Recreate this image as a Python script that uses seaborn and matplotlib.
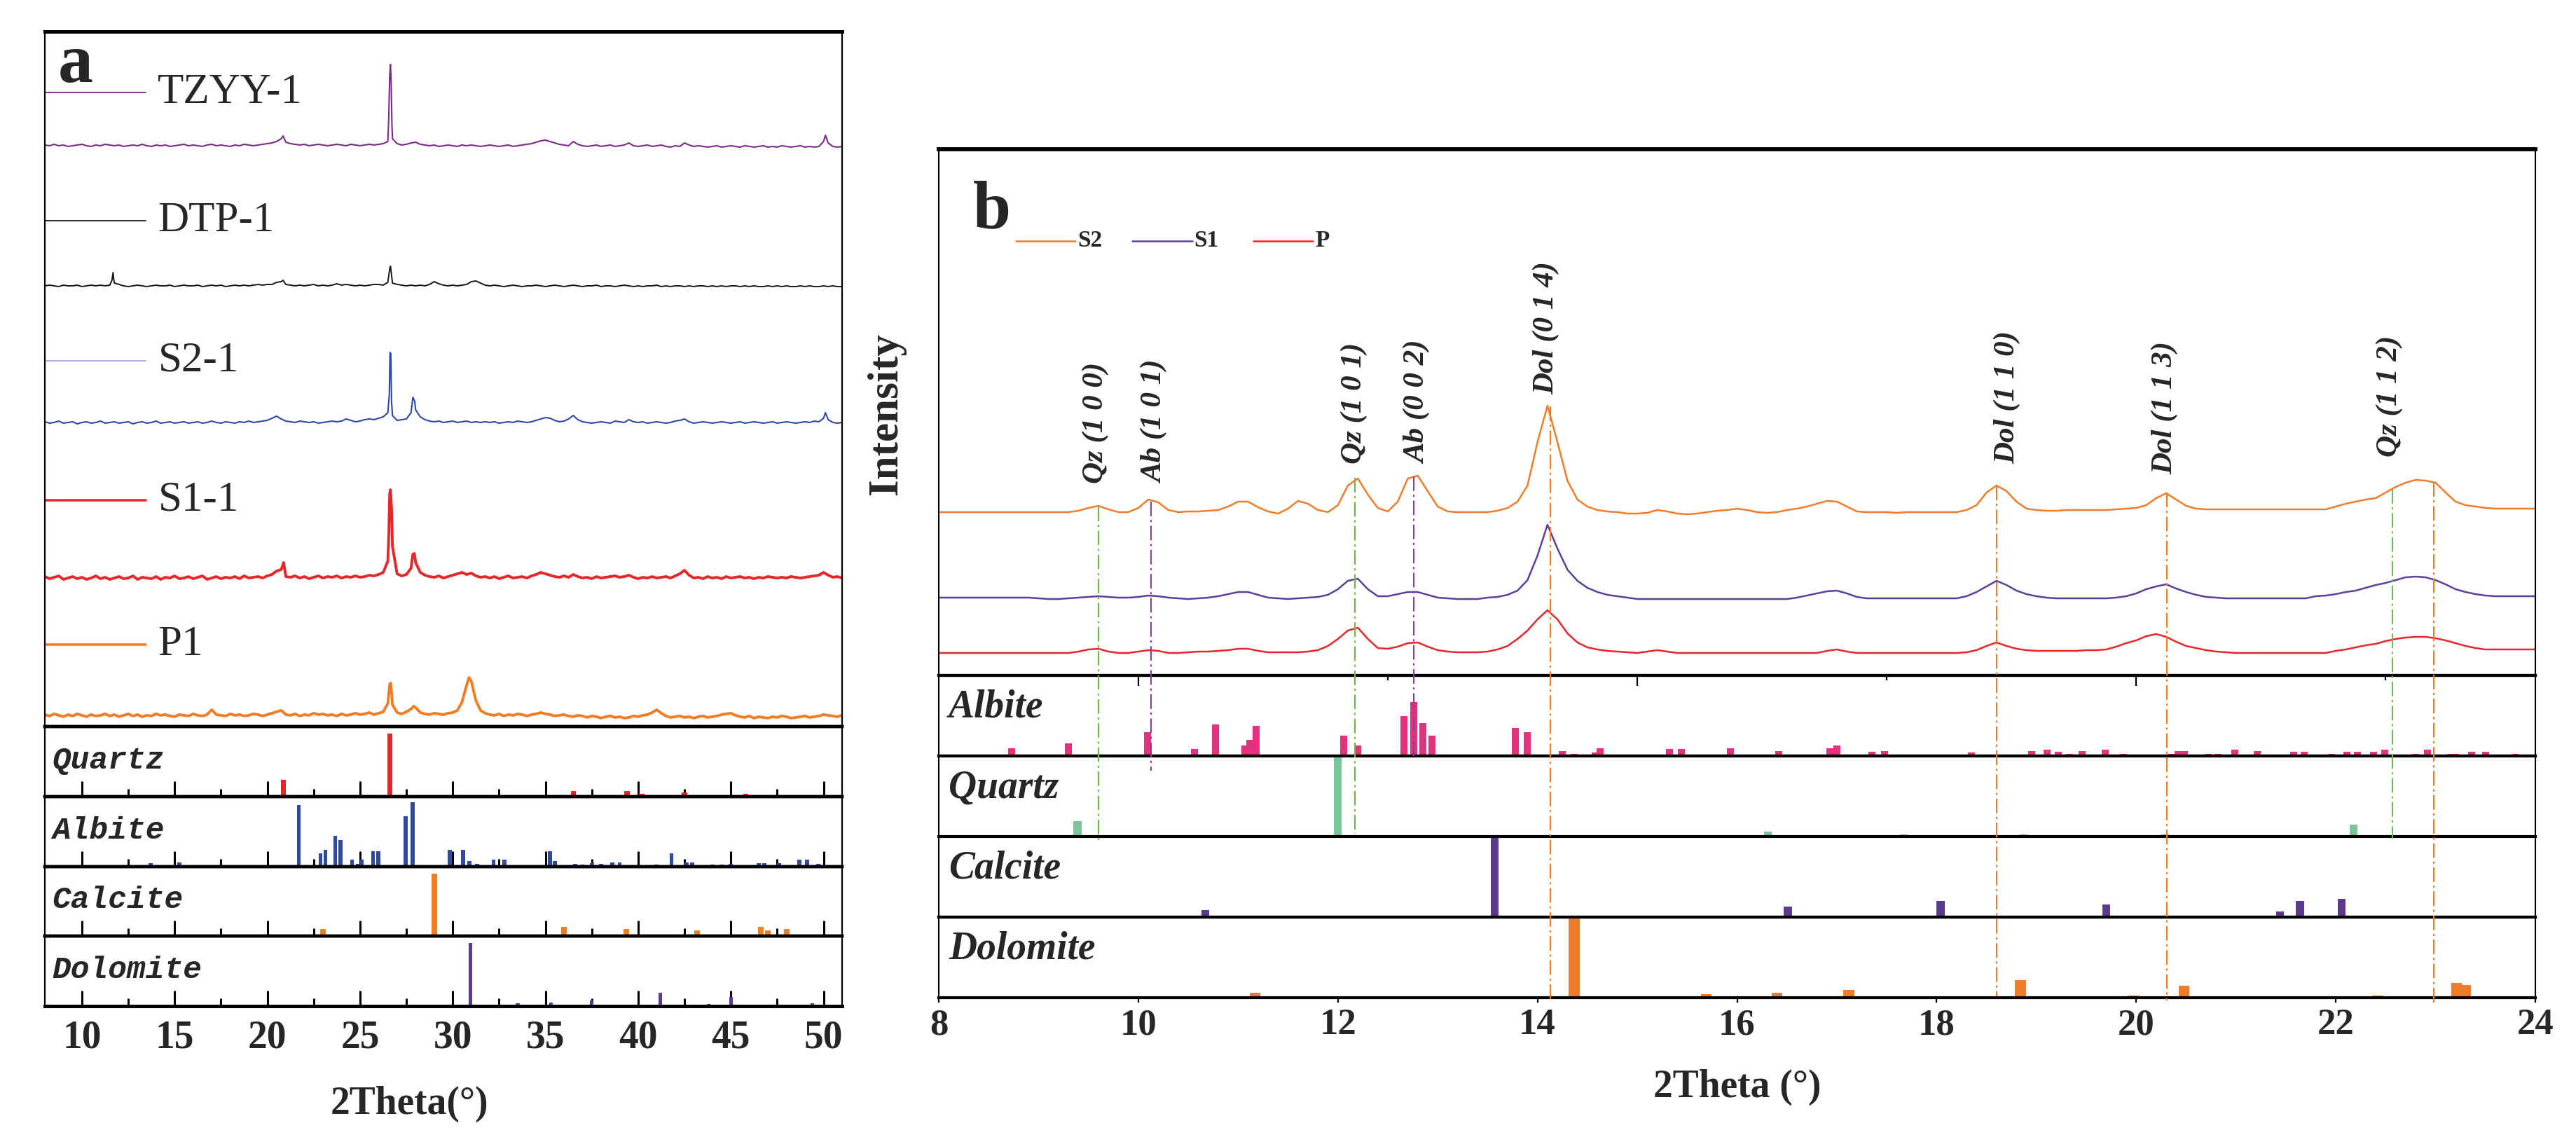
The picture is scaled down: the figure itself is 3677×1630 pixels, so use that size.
import numpy as np
import pandas as pd
import matplotlib
matplotlib.use("Agg")
import matplotlib.pyplot as plt
from matplotlib.lines import Line2D
import seaborn as sns

# ---------------------------------
# Panel a : XRD patterns (step 0.25 deg, 8 - 51 deg), px above each baseline
# ---------------------------------

tzyy_base = [
    1, 0, 2, 0, 1, -1, 0, 1, 2, 0, -1, 1, 0, 2, 1, 0,
    1, -1, 0, 1, 0, 2, 0, -1, 1, 0, 1, -1, 0, 1, 2, 0,
    1, 0, -1, 1, 2, 0, 1, 0, -1, 1, 0, 2, 1, 0, 1, 2,
    3, 4, 6, 10, 5, 3, 2, 1, 2, 0, 1, 2, 1, 0, 1, 2,
    1, 0, 2, 1, 0, 1, 2, 1, 2, 3, 6, 10, 3, 1, 2, 4,
    5, 2, 1, 0, 1, -1, 0, 1, 0, -1, 1, 0, 1, 0, -1, 0,
    1, 0, -1, 0, 1, -1, 0, 1, 2, 3, 5, 7, 8, 6, 4, 2,
    1, 0, 6, 2, 0, -1, 0, 1, -1, 0, 1, -1, 0, 1, 4, 0,
    -1, 0, 1, -1, 0, 1, -1, -2, 0, -1, 4, 1, -1, 0, -1, -2,
    -1, 0, -2, -1, 0, -1, -2, 0, -1, -2, -1, 0, -2, -1, -2, 0,
    -1, -2, -1, 0, -2, -1, -2, -1, 6, 4, -1, -2, -1]
tzyy_peak_x = [20.85, 26.55, 26.60, 26.64, 26.68, 26.72, 50.10]
tzyy_peak_y = [14, 40, 100, 116, 90, 30, 15]

dtp_base = [
    0, 1, 0, -1, 1, 0, 0, 1, -1, 0, 1, 0, 1, 0, 1, 4,
    2, 0, -1, 0, 1, 0, -1, 0, 1, 0, 0, 1, -1, 0, 1, 0,
    0, 1, -1, 0, 1, 0, 1, -1, 0, 1, 0, 1, 0, 1, 2, 1,
    2, 2, 5, 6, 2, 1, 0, 1, 0, 1, 2, 0, 1, 0, 1, 3,
    1, 2, 1, 0, 1, 0, 1, 2, 2, 1, 5, 4, 2, 1, 0, 1,
    0, 1, 0, 2, 6, 3, 1, 0, 1, 0, 1, 2, 6, 7, 4, 1,
    0, 1, 0, -1, 0, 1, 0, -1, 0, 0, 1, 0, -1, 0, 1, 0,
    -1, 0, 1, 0, -1, 0, 0, 1, -1, 0, 0, -1, 0, 1, 0, -1,
    0, -1, 0, 0, 1, -1, 0, -1, 0, 0, -1, 0, -1, 0, 0, -1,
    0, -1, 0, -1, 0, 0, -1, 0, -1, 0, -1, -1, 0, -1, 0, -1,
    0, -1, -1, 0, -1, 0, -1, -1, 0, -1, 0, -1, -1]
dtp_peak_x = [11.62, 11.68, 11.72, 20.85, 26.60, 26.64, 26.68]
dtp_peak_y = [8, 19, 9, 8, 24, 28, 20]

s2_base = [
    1, -1, 0, 2, -1, 0, 1, -2, 0, 1, -1, 0, 2, -1, 0, 1,
    -1, 0, 1, -2, 0, 1, -1, 0, 2, -1, 0, 1, -1, 0, 1, -1,
    0, 1, -1, 0, 2, 0, -1, 1, 0, -1, 1, 0, 2, 0, 1, 2,
    3, 6, 9, 5, 2, 1, 0, 2, 1, 0, 1, -1, 0, 1, 2, 1,
    2, 5, 3, 1, 2, 4, 5, 4, 6, 8, 14, 10, 3, 4, 5, 14,
    18, 8, 4, 2, 1, 2, 0, 1, 2, 0, 1, 2, 0, 1, 0, 1,
    0, 1, -1, 0, 1, 0, 2, 1, 0, 1, 3, 5, 7, 6, 3, 1,
    2, 5, 10, 4, 1, 0, -1, 0, 1, 0, -1, 2, 1, 0, 4, 1,
    0, 1, -1, 0, 1, 0, -1, 0, 2, 3, 5, 1, -1, 0, 1, 0,
    -1, 0, 1, 0, -1, 0, 1, -1, 0, 1, 0, -1, 0, 1, -1, 0,
    1, 0, -1, 0, 1, 0, 2, 1, 6, 4, 0, -1, 0]
s2_peak_x = [26.58, 26.62, 26.66, 26.70, 27.85, 27.95, 50.10]
s2_peak_y = [40, 100, 98, 30, 36, 30, 14]

s1_base = [
    2, -1, 1, 3, -2, 0, 2, -1, 1, -2, 0, 3, -1, 1, -2, 0,
    2, -1, 0, 3, -2, 1, 0, -1, 2, -2, 1, 0, 3, -1, 0, 2,
    -1, 1, 3, -2, 0, 2, -1, 1, 0, 2, -1, 3, 0, 1, 2, 0,
    3, 5, 10, 12, 2, 1, 3, 0, 2, -1, 1, 3, 0, 2, 1, 3,
    0, 2, 1, 3, 1, 2, 4, 3, 5, 8, 24, 45, 6, 3, 5, 14,
    22, 8, 4, 2, 1, 3, 0, 2, 4, 6, 8, 5, 7, 3, 1, 2,
    0, 2, -1, 1, 3, 0, 1, 2, 0, 3, 5, 8, 6, 4, 2, 1,
    3, 1, 5, 2, 0, 1, -1, 2, 0, 1, 2, 3, 1, 2, 4, 1,
    -1, 1, 0, 2, 0, 1, 2, 0, 3, 6, 11, 4, 0, 1, -1, 2,
    0, 1, -1, 2, 0, 1, 2, 0, 1, -1, 1, 0, 2, 1, 0, 1,
    0, 2, 1, 0, 1, 2, 3, 4, 8, 4, 1, 2, 0]
s1_peak_x = [20.88, 26.55, 26.60, 26.64, 26.70, 27.85, 27.93]
s1_peak_y = [22, 60, 120, 126, 100, 34, 35]

p1_base = [
    2, 0, 3, 1, -1, 2, 0, 3, 1, -1, 2, 0, 1, 3, 0, 2,
    -1, 1, 3, 0, 2, -1, 1, 0, 3, 1, 2, 0, -1, 2, 1, 0,
    3, 1, 0, 2, 9, 2, 1, 0, 3, 1, 2, 0, 1, 3, 2, 0,
    2, 4, 6, 8, 2, 1, 3, 0, 2, 1, 4, 2, 3, 1, 2, 0,
    3, 1, 2, 4, 2, 3, 5, 2, 4, 6, 18, 16, 5, 3, 6, 10,
    12, 5, 3, 2, 4, 3, 2, 4, 5, 8, 20, 44, 50, 22, 8, 4,
    2, 1, 3, 0, 2, 1, 3, 2, 0, 2, 3, 5, 3, 2, 0, 1,
    2, 0, -1, 1, 0, -2, 0, -1, -3, -1, 0, -2, -1, -3, -2, 0,
    -1, 1, 2, 5, 9, 4, 0, -2, -1, 0, -2, -1, -3, -1, 0, -2,
    -1, 0, 2, 3, 4, 1, -1, -2, 0, -3, -1, -2, -3, -1, -2, 0,
    -1, -3, -2, -1, 0, -2, -1, 0, 2, 1, 0, -1, 1]
p1_peak_x = [26.60, 26.66, 27.90, 30.88]
p1_peak_y = [45, 47, 14, 55]

a_names = ["TZYY-1", "DTP-1", "S2-1", "S1-1", "P1"]

# reference cards, panel a (relative height)
qz_a_x = [20.87, 26.60, 36.50, 39.40, 40.20, 42.50, 45.80]
qz_a_h = [0.24, 0.90, 0.08, 0.08, 0.04, 0.06, 0.04]
ab_a_x = [13.70, 15.25, 21.70, 22.87, 23.13, 23.66, 23.96, 24.57, 24.90, 25.10,
          25.70, 26.00, 27.47, 27.84, 29.85, 30.56, 30.90, 31.30, 32.20, 32.80,
          35.25, 35.50, 36.60, 37.00, 37.50, 38.00, 38.60, 39.00, 41.00, 41.80,
          42.60, 42.90, 44.00, 44.50, 45.00, 46.50, 46.80, 47.60, 48.70, 49.10, 49.70]
ab_a_h = [0.05, 0.06, 0.88, 0.19, 0.24, 0.44, 0.38, 0.10, 0.04, 0.10,
          0.22, 0.22, 0.72, 0.92, 0.24, 0.24, 0.08, 0.04, 0.10, 0.10,
          0.22, 0.08, 0.04, 0.03, 0.05, 0.04, 0.06, 0.06, 0.03, 0.19,
          0.06, 0.06, 0.03, 0.03, 0.04, 0.05, 0.05, 0.05, 0.10, 0.10, 0.04]
cc_a_x = [23.00, 29.00, 30.60, 36.00, 39.35, 43.17, 46.60, 47.00, 48.00]
cc_a_h = [0.10, 0.90, 0.02, 0.13, 0.10, 0.08, 0.13, 0.08, 0.10]
dol_a_x = [22.00, 24.50, 30.95, 33.50, 35.30, 37.50, 41.20, 43.80, 45.00, 49.40]
dol_a_h = [0.02, 0.02, 0.90, 0.04, 0.05, 0.08, 0.19, 0.03, 0.13, 0.04]

# ---------------------------------
# Panel b : XRD patterns (step 0.1 deg, 8 - 24 deg), px above each baseline
# ---------------------------------

s2_b = [
    0, 0, 0, 0, 0, 0, 0, 0, 0, 0,
    0, 0, 0, 0, 2, 6, 9, 4, 0, 0,
    6, 18, 14, 3, 0, 1, 1, 2, 3, 8,
    15, 15, 7, 1, -2, 5, 16, 12, 3, 0,
    10, 38, 48, 25, 6, 1, 15, 48, 52, 30,
    8, 1, 0, 0, 0, 0, 2, 6, 15, 38,
    100, 152, 100, 45, 18, 8, 3, 1, 0, -2,
    -2, -1, 3, 1, -2, -3, -2, 0, 2, 3,
    5, 3, 0, -1, 0, 3, 5, 8, 12, 16,
    15, 8, 1, 0, 0, 0, -1, 0, 0, 0,
    0, 0, 0, 3, 10, 28, 38, 30, 15, 5,
    3, 2, 2, 3, 3, 3, 3, 3, 4, 5,
    6, 10, 20, 27, 18, 9, 5, 4, 4, 4,
    4, 4, 4, 4, 4, 4, 4, 4, 4, 4,
    8, 12, 15, 18, 20, 28, 36, 42, 46, 45,
    42, 28, 15, 10, 8, 6, 5, 5, 5, 5,
    5]
s1_b = [
    0, 0, 0, 0, 0, 0, 0, 0, 0, 0,
    -1, -2, -2, -1, 0, 1, 2, 1, 0, 0,
    1, 3, 2, 0, -1, -2, -1, 0, 2, 5,
    8, 8, 4, 0, -1, -2, -1, 0, 1, 4,
    12, 24, 27, 12, 2, 2, 5, 8, 8, 4,
    0, -1, -2, -2, -2, 0, 1, 4, 10, 25,
    60, 104, 70, 40, 24, 14, 8, 4, 2, 0,
    -2, -2, -2, -2, -2, -2, -2, -2, -2, -2,
    -2, -2, -2, -2, -2, -2, 0, 3, 6, 9,
    10, 6, 1, -1, -1, -1, -1, -1, -1, -1,
    -1, -1, -1, 2, 8, 16, 24, 18, 10, 5,
    2, 0, -1, -1, -1, -1, -1, -1, 0, 2,
    6, 12, 16, 19, 13, 8, 4, 1, 0, -1,
    -1, -1, -1, -1, -1, -1, -1, -1, 2, 3,
    5, 8, 10, 14, 18, 21, 25, 29, 30, 29,
    25, 19, 12, 8, 5, 3, 2, 2, 2, 2,
    2]
p_b = [
    0, 0, 0, 0, 0, 0, 0, 0, 0, 0,
    0, 0, 0, 0, 2, 5, 6, 2, 0, 0,
    2, 4, 3, 0, 0, 1, 2, 2, 3, 4,
    6, 6, 3, 1, 1, 1, 1, 2, 4, 10,
    20, 32, 36, 20, 7, 6, 9, 14, 15, 9,
    4, 2, 1, 1, 1, 2, 5, 10, 20, 32,
    48, 61, 48, 28, 15, 8, 5, 3, 2, 1,
    0, 2, 4, 2, 0, 0, 0, 0, 0, 0,
    0, 0, 0, 0, 0, 0, 0, 0, 0, 3,
    5, 2, 0, 0, 0, 0, 0, 0, 0, 0,
    0, 0, 0, 1, 4, 10, 15, 10, 6, 4,
    3, 3, 3, 3, 3, 4, 4, 5, 9, 14,
    18, 24, 27, 23, 16, 10, 7, 4, 2, 1,
    0, 0, 0, 0, 0, 0, 0, 0, 0, 0,
    3, 5, 8, 11, 13, 17, 20, 22, 23, 23,
    21, 18, 14, 10, 7, 5, 5, 5, 5, 5,
    5]
b_names = ["S2", "S1", "P"]

ab_b_x = [8.73, 9.30, 10.09, 10.56, 10.77, 11.07, 11.12, 11.18, 11.61, 12.06,
          12.20, 12.66, 12.76, 12.85, 12.94, 13.78, 13.90, 14.25, 14.37, 14.58,
          14.63, 15.32, 15.44, 15.93, 16.06, 16.42, 16.65, 16.93, 17.00, 17.14,
          17.35, 17.48, 17.61, 17.92, 18.15, 18.35, 18.66, 18.95, 19.11, 19.22,
          19.33, 19.46, 19.69, 19.87, 20.10, 20.35, 20.42, 20.48, 20.61, 20.72,
          20.82, 20.99, 21.21, 21.34, 21.58, 21.68, 21.96, 22.11, 22.22, 22.38,
          22.49, 22.68, 22.80, 22.92, 23.15, 23.20, 23.36, 23.50, 23.80]
ab_b_h = [0.10, 0.16, 0.30, 0.09, 0.39, 0.13, 0.20, 0.37, 0.02, 0.25,
          0.13, 0.50, 0.67, 0.41, 0.25, 0.35, 0.30, 0.06, 0.03, 0.04,
          0.10, 0.09, 0.09, 0.10, 0.02, 0.06, 0.02, 0.10, 0.13, 0.02,
          0.05, 0.06, 0.02, 0.02, 0.02, 0.04, 0.02, 0.06, 0.08, 0.05,
          0.03, 0.06, 0.08, 0.03, 0.02, 0.03, 0.06, 0.06, 0.02, 0.03,
          0.03, 0.08, 0.06, 0.02, 0.05, 0.05, 0.03, 0.05, 0.05, 0.05,
          0.08, 0.02, 0.03, 0.08, 0.03, 0.03, 0.05, 0.05, 0.03]
qz_b_x = [9.39, 12.00, 16.31, 17.67, 17.96, 18.87, 20.29, 22.18, 22.49]
qz_b_h = [0.19, 0.99, 0.06, 0.03, 0.01, 0.03, 0.03, 0.15, 0.01]
cc_b_x = [10.67, 13.57, 14.50, 16.51, 18.04, 19.70, 21.44, 21.64, 22.06]
cc_b_h = [0.09, 1.00, 0.01, 0.13, 0.20, 0.16, 0.07, 0.20, 0.23]
dol_b_x = [10.19, 11.17, 14.37, 15.69, 16.40, 17.12, 18.84, 19.97, 20.48, 22.42, 23.21, 23.30, 23.62]
dol_b_h = [0.01, 0.06, 1.00, 0.04, 0.06, 0.10, 0.22, 0.03, 0.15, 0.03, 0.18, 0.16, 0.01]

# indexed reflections in panel b
pk_labels = ["Qz (1 0 0)", "Ab (1 0 1)", "Qz (1 0 1)", "Ab (0 0 2)",
             "Dol (0 1 4)", "Dol (1 1 0)", "Dol (1 1 3)", "Qz (1 1 2)"]
pk_label_x = [9.57, 10.17, 12.16, 12.80, 14.09, 18.71, 20.29, 22.54]
pk_line_x = [9.60, 10.13, 12.17, 12.76, 14.13, 18.60, 20.31, 22.57, 22.98]
pk_line_kind = ["Qz", "Ab", "Qz", "Ab", "Dol", "Dol", "Dol", "Qz", "Dol"]

# ---------------------------------
# Styling / layout (pixel geometry of the reference)
# ---------------------------------

sns.set_style("white")
plt.rcParams["font.family"] = ["Liberation Serif", "DejaVu Serif"]

W, H = 3677, 1630
fig = plt.figure(figsize=(W / 100, H / 100), dpi=100)


def box(x0, y0, x1, y1):
    return fig.add_axes([x0 / W, 1 - y1 / H, (x1 - x0) / W, (y1 - y0) / H])


def frame(ax, hw, vw, top=None, bottom=None):
    ax.set_facecolor("none")
    for s in ("top", "bottom"):
        ax.spines[s].set_linewidth(hw)
        ax.spines[s].set_color("black")
    for s in ("left", "right"):
        ax.spines[s].set_linewidth(vw)
        ax.spines[s].set_color("black")
    if top is not None:
        ax.spines["top"].set_linewidth(top)
    if bottom is not None:
        ax.spines["bottom"].set_linewidth(bottom)
    ax.set_yticks([])
    ax.set_xlabel("")
    ax.set_ylabel("")


def draw_curve(ax, x, y, color, lw):
    df = pd.DataFrame({"x": x, "y": y})
    sns.lineplot(data=df, x="x", y="y", ax=ax, color=color, lw=lw,
                 estimator=None, sort=False, legend=False)

# ---------------------------------
# Panel a
# ---------------------------------

ax_a = box(64, 45, 1202, 1037)
xa = 8 + 0.25 * np.arange(len(tzyy_base))
a_data = [(tzyy_base, tzyy_peak_x, tzyy_peak_y), (dtp_base, dtp_peak_x, dtp_peak_y),
          (s2_base, s2_peak_x, s2_peak_y), (s1_base, s1_peak_x, s1_peak_y),
          (p1_base, p1_peak_x, p1_peak_y)]
a_offset = [829, 629, 434, 212, 15]
a_key_y = [905, 722, 522, 323, 117]
a_color = ["#7B2A88", "#151515", "#2D47A6", "#E8262A", "#F07D24"]
a_key_color = ["#7B2A88", "#151515", "#A9AEE6", "#E8262A", "#F07D24"]
a_lw = [1.5, 1.4, 1.5, 2.8, 2.8]

for (base, px, py), off, col, lw in zip(a_data, a_offset, a_color, a_lw):
    x = np.concatenate([xa, px])
    y = np.concatenate([np.asarray(base, float), np.asarray(py, float)]) + off
    order = np.argsort(x)
    draw_curve(ax_a, x[order], y[order], col, lw)

for name, ky, kc, lw in zip(a_names, a_key_y, a_key_color, a_lw):
    ax_a.plot([8.0, 13.45], [ky, ky], color=kc, lw=lw * 0.9)
    ax_a.text(14.1, ky, name, fontsize=44, va="center", ha="left")

ax_a.text(8.72, 920, "a", fontsize=72, fontweight="bold", va="baseline")
ax_a.set_xlim(8, 51)
ax_a.set_ylim(0, 992)
ax_a.set_xticks([])
frame(ax_a, 3.6, 1.6, bottom=3.2)

sub_a = [("Quartz", qz_a_x, qz_a_h, "#E8262A", 0.28, (1037, 1137)),
         ("Albite", ab_a_x, ab_a_h, "#2E4A9E", 0.22, (1137, 1237)),
         ("Calcite", cc_a_x, cc_a_h, "#F07F22", 0.30, (1237, 1336)),
         ("Dolomite", dol_a_x, dol_a_h, "#5B3A98", 0.20, (1336, 1436))]
for i, (name, bx, bh, col, bw, (y0, y1)) in enumerate(sub_a):
    ax = box(64, y0, 1202, y1)
    ax.bar(bx, bh, width=bw, color=col, linewidth=0)
    ax.set_xlim(8, 51)
    ax.set_ylim(0, 1)
    ax.text(8.38, 0.40, name, fontsize=32, family="Liberation Mono",
            style="italic", fontweight="bold", va="baseline")
    last = i == len(sub_a) - 1
    major = np.arange(10, 51, 5)
    if last:
        ax.set_xticks(major, labels=[str(t) for t in major],
                      fontsize=40, fontweight="bold")
    else:
        ax.set_xticks(major)
    ax.set_xticks(np.arange(12.5, 50, 5), minor=True)
    ax.tick_params(axis="x", which="major", direction="in", length=16, width=2.2,
                   color="black", bottom=True, top=False, labelbottom=last, pad=14)
    ax.tick_params(axis="x", which="minor", direction="in", length=8, width=2.2,
                   color="black", bottom=True, top=False)
    frame(ax, 3.2, 1.6, bottom=3.6 if last else 3.2)

fig.text(584 / W, 1 - 1576 / H, "2Theta(°)", fontsize=40, fontweight="bold",
         ha="center", va="center")

# ---------------------------------
# Panel b
# ---------------------------------

ax_b = box(1340, 213, 3619, 964)
xb = np.round(8 + 0.1 * np.arange(len(s2_b)), 2)
b_offset = [233, 111, 32]
b_color = ["#F07C2C", "#5B3F9B", "#E8262A"]
for vals, off, col in zip([s2_b, s1_b, p_b], b_offset, b_color):
    draw_curve(ax_b, xb, np.asarray(vals, float) + off, col, 1.8)

# legend row
key_x0 = [8.77, 9.94, 11.15]
for name, kx, col in zip(b_names, key_x0, b_color):
    ax_b.plot([kx, kx + 0.6], [620, 620], color=col, lw=1.8)
    ax_b.text(kx + 0.62, 620, name, fontsize=24, fontweight="bold",
              va="center", ha="left")
ax_b.text(8.34, 639, "b", fontsize=70, fontweight="bold", va="baseline")

pk_label_y = [274, 274, 302, 302, 401, 302, 287, 312]
for lab, lx, ly in zip(pk_labels, pk_label_x, pk_label_y):
    ax_b.text(lx, ly, lab, rotation=90, fontsize=31, fontweight="bold",
              style="italic", ha="center", va="bottom")

ax_b.set_xlim(8, 24)
ax_b.set_ylim(0, 751)
ax_b.set_xticks([])
frame(ax_b, 3.0, 1.5, top=4.2)

sub_b = [("Albite", ab_b_x, ab_b_h, "#E6317E", 0.07, (964, 1079)),
         ("Quartz", qz_b_x, qz_b_h, "#7CC49B", 0.08, (1079, 1194)),
         ("Calcite", cc_b_x, cc_b_h, "#5C3A8F", 0.08, (1194, 1309)),
         ("Dolomite", dol_b_x, dol_b_h, "#F07C2A", 0.11, (1309, 1424))]
b_axes = []
for i, (name, bx, bh, col, bw, (y0, y1)) in enumerate(sub_b):
    ax = box(1340, y0, 3619, y1)
    ax.bar(bx, bh, width=bw, color=col, linewidth=0)
    ax.set_xlim(8, 24)
    ax.set_ylim(0, 1)
    ax.text(8.1, 0.48, name, fontsize=40, fontweight="bold", style="italic",
            va="baseline")
    if i == 0:
        ax.set_xticks([10, 15, 20])
        ax.set_xticks([12.5, 17.5, 22.5], minor=True)
        ax.tick_params(axis="x", which="major", direction="in", length=11, width=1.6,
                       color="black", top=True, bottom=False, labeltop=False,
                       labelbottom=False)
        ax.tick_params(axis="x", which="minor", direction="in", length=5, width=1.6,
                       color="black", top=True, bottom=False)
    elif i == len(sub_b) - 1:
        major = np.arange(8, 25, 2)
        ax.set_xticks(major, labels=[str(t) for t in major],
                      fontsize=38, fontweight="bold")
        ax.tick_params(axis="x", which="major", direction="out", length=5, width=1.6,
                       color="black", bottom=True, top=False, pad=6)
    else:
        ax.set_xticks([])
    frame(ax, 3.0, 1.5, bottom=1.8 if i == 1 else 3.0)
    b_axes.append(ax)

fig.text(2480 / W, 1 - 1552 / H, "2Theta (°)", fontsize=40, fontweight="bold",
         ha="center", va="center")
fig.text(1265 / W, 1 - 590 / H, "Intensity", fontsize=44, fontweight="bold",
         rotation=90, ha="center", va="center")

# dash-dot guide lines from the S2 peaks down through the reference cards
kind_color = {"Qz": "#6CBF3C", "Ab": "#8A3F96", "Dol": "#F07C22"}
pk_line_top = [241, 248, 282, 284, 384, 271, 261, 266, 276]   # px above panel-b main bottom
pk_line_end = [1199, 1100, 1190, 1079, 1430, 1422, 1428, 1197, 1432]  # reference px row
for lx, kind, top, end in zip(pk_line_x, pk_line_kind, pk_line_top, pk_line_end):
    xf = (1340 + (lx - 8) * (3619 - 1340) / 16) / W
    yt = 1 - (964 - top) / H
    yb = 1 - end / H
    fig.add_artist(Line2D([xf, xf], [yt, yb], transform=fig.transFigure,
                          color=kind_color[kind], lw=1.5,
                          linestyle=(0, (10, 2.5, 1.5, 2.5)), zorder=5))

fig.savefig("out.png", dpi=100, facecolor="white")
